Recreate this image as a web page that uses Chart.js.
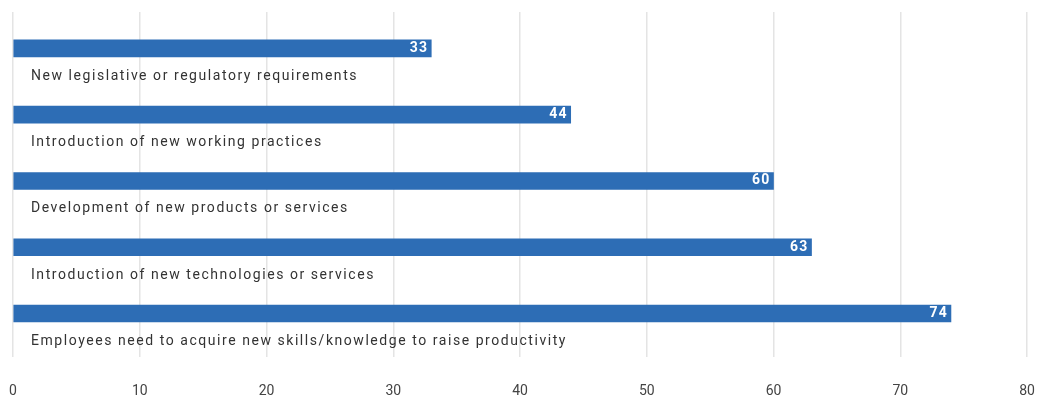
<!DOCTYPE html>
<html>
<head>
<meta charset="utf-8">
<script src="https://cdn.jsdelivr.net/npm/chart.js@4"></script>
<style>
html,body{margin:0;padding:0;background:#fff;}
#wrap{width:1037px;height:398px;position:relative;}
</style>
</head>
<body>
<div id="wrap"><canvas id="c"></canvas></div>
<script>
const categories = [
  "New legislative or regulatory requirements",
  "Introduction of new working practices",
  "Development of new products or services",
  "Introduction of new technologies or services",
  "Employees need to acquire new skills/knowledge to raise productivity"
];
const values = [33, 44, 60, 63, 74];
const xTicks = [0, 10, 20, 30, 40, 50, 60, 70, 80];

const labelPlugin = {
  id: 'barLabels',
  afterDatasetsDraw(chart) {
    const ctx = chart.ctx;
    const meta = chart.getDatasetMeta(0);
    ctx.save();
    meta.data.forEach((bar, i) => {
      ctx.font = 'bold 14px Roboto';
      ctx.letterSpacing = '1.2px';
      ctx.fillStyle = '#ffffff';
      ctx.textAlign = 'right';
      ctx.textBaseline = 'middle';
      ctx.fillText(String(values[i]), bar.x - 3, bar.y);
      ctx.font = '14px Roboto';
      ctx.letterSpacing = '1.55px';
      ctx.fillStyle = '#333333';
      ctx.textAlign = 'left';
      ctx.fillText(categories[i], chart.chartArea.left + 18, bar.y + 28);
    });
    ctx.restore();
  }
};

new Chart(document.getElementById('c'), {
  type: 'bar',
  data: {
    datasets: [{
      data: values.map((v, i) => ({x: v, y: i})),
      backgroundColor: '#2d6db5',
      barThickness: 17,
      borderWidth: 0
    }]
  },
  options: {
    indexAxis: 'y',
    responsive: true,
    maintainAspectRatio: false,
    animation: false,
    layout: { padding: { left: 13, right: 10, top: 12, bottom: -2 } },
    plugins: { legend: { display: false }, tooltip: { enabled: false } },
    scales: {
      x: {
        type: 'linear',
        min: 0, max: 80,
        afterBuildTicks(scale) { scale.ticks = xTicks.map(v => ({value: v})); },
        grid: { color: '#e4e4e4', lineWidth: 1.5, drawTicks: true, tickLength: 26, tickColor: 'rgba(0,0,0,0)' },
        border: { display: false },
        ticks: { color: '#444', font: { family: 'Roboto', size: 14 }, padding: 0, maxRotation: 0 }
      },
      y: {
        type: 'linear',
        reverse: true,
        offset: false,
        bounds: 'data',
        grace: 0,
        grid: { offset: false },
        afterDataLimits(scale) { scale.min = -0.55; scale.max = 4.66; },
        display: false
      }
    }
  },
  plugins: [labelPlugin]
});
</script>
</body>
</html>
